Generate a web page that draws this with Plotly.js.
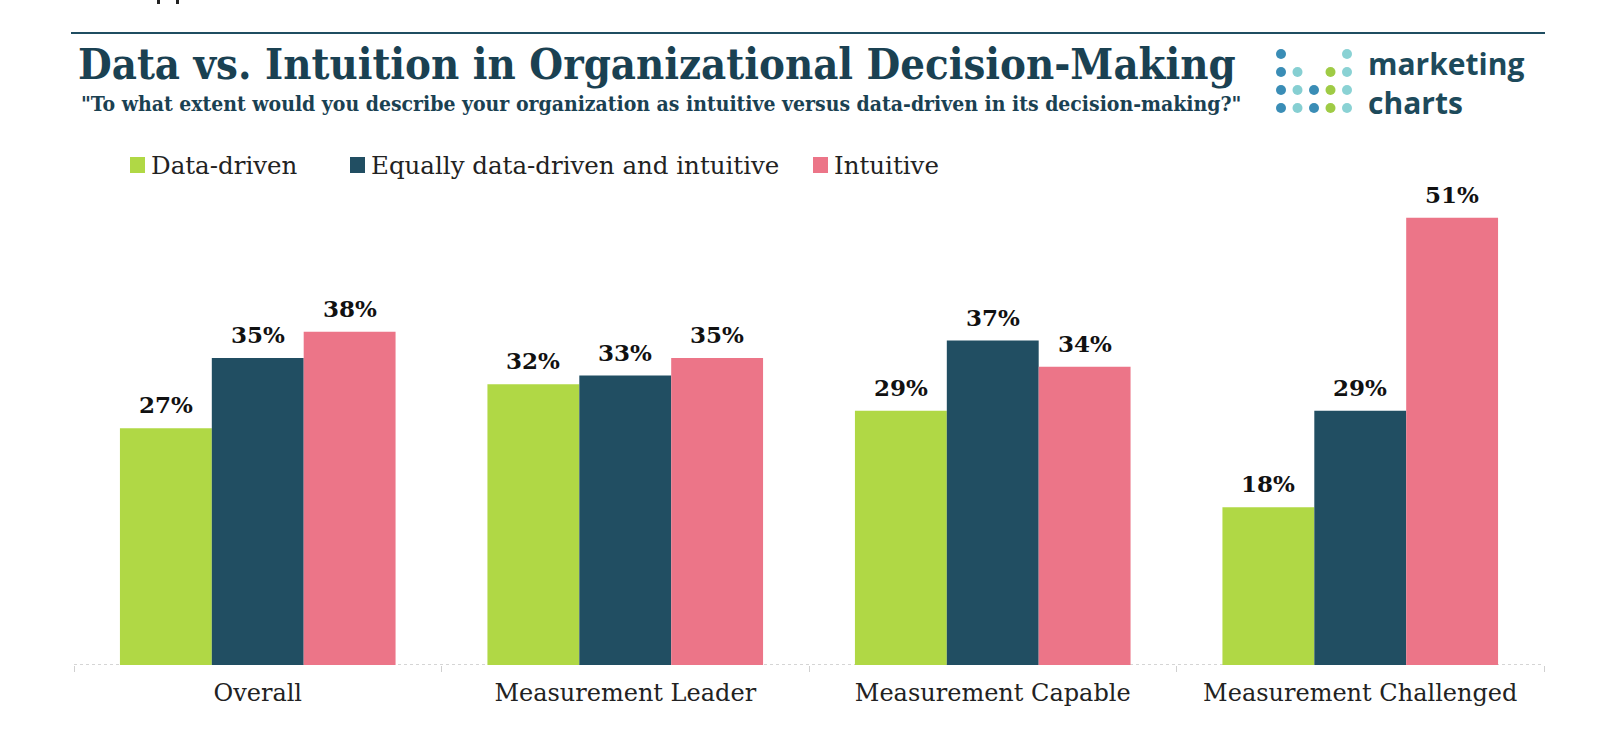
<!DOCTYPE html>
<html>
<head>
<meta charset="utf-8">
<script src="https://cdn.plot.ly/plotly-3.0.1.min.js"></script>
<style>html,body{margin:0;padding:0;background:#fff;}#chart{width:1600px;height:732px;}</style>
</head>
<body>
<div id="chart"></div>
<script>
// ---- data ----
const categories = ['Overall', 'Measurement Leader', 'Measurement Capable', 'Measurement Challenged'];
const seriesNames = ['Data-driven', 'Equally data-driven and intuitive', 'Intuitive'];
const dataDriven = [27, 32, 29, 18];
const equallyDriven = [35, 33, 37, 29];
const intuitive = [38, 35, 34, 51];
const titleText = 'Data vs. Intuition in Organizational Decision-Making';
const subtitleText = '"To what extent would you describe your organization as intuitive versus data-driven in its decision-making?"';
const logoText = 'marketing<br>charts';

// ---- styles ----
const seriesValues = [dataDriven, equallyDriven, intuitive];
const seriesColors = ['#b0d845', '#214e62', '#ec7588'];
const serifC = 'DejaVu Serif Condensed, DejaVu Serif, serif';
const serif = 'DejaVu Serif, serif';
const W = 1600, H = 732;
const M = {l: 74, r: 56, t: 150, b: 67};
const plotW = W - M.l - M.r, plotH = H - M.t - M.b;
const px = X => (X - M.l) / plotW;
const py = Y => (H - M.b - Y) / plotH;

const traces = seriesValues.map((vals, i) => ({
  type: 'bar', x: categories, y: vals, name: seriesNames[i],
  marker: {color: seriesColors[i], line: {width: 0}},
  hoverinfo: 'x+y+name', showlegend: false
}));

const annotations = [];
// value labels
const offsets = [-0.25, 0, 0.25];
seriesValues.forEach((vals, s) => {
  vals.forEach((v, c) => {
    annotations.push({
      x: c + offsets[s], y: v, xref: 'x', yref: 'y', text: v + '%',
      showarrow: false, yanchor: 'bottom', yshift: 8,
      font: {family: serif, size: 23, color: '#111', weight: 700}
    });
  });
});
// subtitle
annotations.push({
  xref: 'paper', yref: 'paper', x: px(79), y: py(104), xanchor: 'left', yanchor: 'middle',
  text: '<b>' + subtitleText + '</b>', showarrow: false,
  font: {family: serifC, size: 21, color: '#1a4152'}
});
// legend (manual)
const legendX = [130, 350, 813];
const shapes = [];
seriesNames.forEach((n, i) => {
  shapes.push({type: 'rect', xref: 'paper', yref: 'paper', xsizemode: 'pixel', ysizemode: 'pixel',
    xanchor: px(legendX[i]), yanchor: py(165), x0: 0, x1: 15, y0: -8, y1: 8,
    fillcolor: seriesColors[i], line: {width: 0}});
  annotations.push({xref: 'paper', yref: 'paper', x: px(legendX[i] + 19), y: py(165),
    xanchor: 'left', yanchor: 'middle', text: n, showarrow: false,
    font: {family: serif, size: 24.5, color: '#222'}});
});
// logo
const dotCols = [1281, 1297.5, 1314, 1330.5, 1347];
const dotRows = [54, 72, 90, 108];
const logoPattern = [
  ['#3a8db6', null, null, null, '#8ad2d4'],
  ['#3a8db6', '#86cfd2', null, '#9fcb45', '#8ad2d4'],
  ['#3a8db6', '#86cfd2', '#3a8db6', '#9fcb45', '#8ad2d4'],
  ['#3a8db6', '#86cfd2', '#3a8db6', '#9fcb45', '#8ad2d4']
];
logoPattern.forEach((row, r) => row.forEach((col, c) => {
  if (!col) return;
  shapes.push({type: 'circle', xref: 'paper', yref: 'paper', xsizemode: 'pixel', ysizemode: 'pixel',
    xanchor: px(dotCols[c]), yanchor: py(dotRows[r]), x0: -5, x1: 5, y0: -5, y1: 5,
    fillcolor: col, line: {width: 0}});
}));
annotations.push({xref: 'paper', yref: 'paper', x: px(1366), y: py(83), xanchor: 'left', yanchor: 'middle',
  align: 'left', text: logoText, showarrow: false,
  font: {family: 'Open Sans', size: 30, color: '#1d4a5b', weight: 700}});
// top rule
shapes.push({type: 'line', xref: 'paper', yref: 'paper', x0: px(71), x1: px(1545), y0: py(33), y1: py(33),
  line: {color: '#1f4d61', width: 2}});
// cut-off glyph fragments at very top
shapes.push({type: 'rect', xref: 'paper', yref: 'paper', x0: px(157), x1: px(160), y0: py(0), y1: py(4),
  fillcolor: '#222', line: {width: 0}});
shapes.push({type: 'rect', xref: 'paper', yref: 'paper', x0: px(176), x1: px(179), y0: py(0), y1: py(4),
  fillcolor: '#222', line: {width: 0}});
// dashed baseline
shapes.push({type: 'line', xref: 'paper', yref: 'y', x0: 0, x1: 1, y0: 0, y1: 0,
  line: {color: '#c8c8c8', width: 1.5, dash: 'dot'}, layer: 'below'});

const layout = {
  width: W, height: H, margin: M,
  paper_bgcolor: '#fff', plot_bgcolor: '#fff',
  title: {text: '<b>' + titleText + '</b>', xref: 'container', yref: 'container',
    x: 78 / W, y: 1 - 64 / H, xanchor: 'left', yanchor: 'middle',
    font: {family: serifC, size: 43.2, color: '#1a4152'}},
  barmode: 'group', bargap: 0.25, bargroupgap: 0,
  xaxis: {type: 'category', range: [-0.5, 3.5], showgrid: false, zeroline: false, showline: false,
    ticks: 'outside', tickson: 'boundaries', ticklen: 6, tickcolor: '#d0d0d0', tickwidth: 1,
    ticklabelstandoff: 11,
    tickfont: {family: serif, size: 24, color: '#222'}},
  yaxis: {range: [0, plotH / 8.77], showgrid: false, zeroline: false, showline: false,
    showticklabels: false, ticks: ''},
  annotations: annotations, shapes: shapes,
  showlegend: false
};

Plotly.newPlot('chart', traces, layout, {displayModeBar: false, staticPlot: true});
</script>
</body>
</html>
